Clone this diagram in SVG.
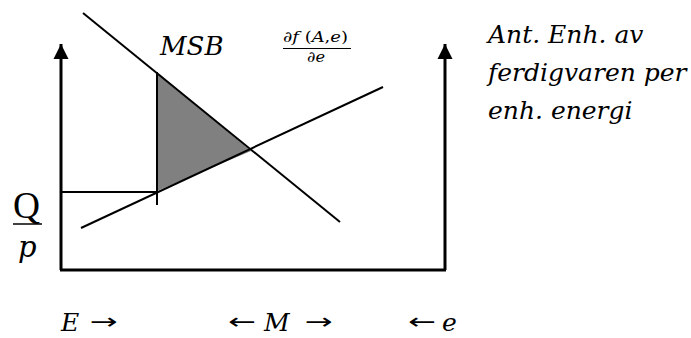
<svg xmlns="http://www.w3.org/2000/svg" width="691" height="338" viewBox="0 0 691 338">
<style>
.ax{stroke:#000;stroke-width:3;fill:none}
.ln{stroke:#000;stroke-width:2;fill:none}
text{fill:#000;font-family:'DejaVu Serif',serif}
.i{font-style:italic}
.ar{font-family:'DejaVu Sans',sans-serif;font-size:22px}
</style>
<defs>
<marker id="ah" viewBox="0 0 10 10" refX="10" refY="5" markerWidth="5" markerHeight="5.5" markerUnits="strokeWidth" orient="auto">
<path d="M0,0 L10,5 L0,10 Z" fill="#000"/>
</marker>
</defs>
<rect width="691" height="338" fill="#fff"/>
<g id="axes">
<path class="ax" d="M61,270 L61,44" marker-end="url(#ah)"/>
<path class="ax" d="M445,270 L445,44" marker-end="url(#ah)"/>
<path class="ax" d="M60,270 L446,270"/>
</g>
<g id="surplus">
<polygon points="157,72 251,151 157,191" fill="#808080"/>
</g>
<g id="connectors">
<line class="ln" x1="83" y1="13" x2="340" y2="222"/>
<line class="ln" x1="81" y1="228" x2="383" y2="87"/>
<line class="ln" x1="157" y1="72" x2="157" y2="205"/>
<line class="ln" x1="60" y1="192" x2="157" y2="192"/>
</g>
<g id="labels">
<text class="i" x="160" y="55" font-size="26">MSB</text>
<text x="283" y="42" font-size="15" textLength="65" lengthAdjust="spacingAndGlyphs"><tspan class="i">∂f</tspan> (<tspan class="i">A</tspan>,<tspan class="i">e</tspan>)</text>
<line x1="283" y1="48.5" x2="351" y2="48.5" stroke="#000" stroke-width="1.2"/>
<text class="i" x="307" y="62" font-size="15" textLength="18" lengthAdjust="spacingAndGlyphs">∂e</text>
<text x="13" y="218" font-size="38" textLength="27" lengthAdjust="spacingAndGlyphs" style="font-family:'Liberation Serif',serif">Q</text>
<line x1="13" y1="224" x2="42" y2="224" stroke="#000" stroke-width="1.5"/>
<text class="i" x="18" y="257" font-size="29">p</text>
<text class="i" x="488" y="43" font-size="25">Ant. Enh. av</text>
<text class="i" x="488" y="81" font-size="25">ferdigvaren per</text>
<text class="i" x="488" y="119" font-size="25">enh. energi</text>
<text class="i" x="61" y="331" font-size="25">E</text>
<text class="ar" x="90" y="329" textLength="28" lengthAdjust="spacingAndGlyphs">→</text>
<text class="ar" x="228" y="329" textLength="28" lengthAdjust="spacingAndGlyphs">←</text>
<text class="i" x="264" y="331" font-size="25">M</text>
<text class="ar" x="305" y="329" textLength="28" lengthAdjust="spacingAndGlyphs">→</text>
<text class="ar" x="408" y="329" textLength="28" lengthAdjust="spacingAndGlyphs">←</text>
<text class="i" x="442" y="331" font-size="25">e</text>
</g>
</svg>
